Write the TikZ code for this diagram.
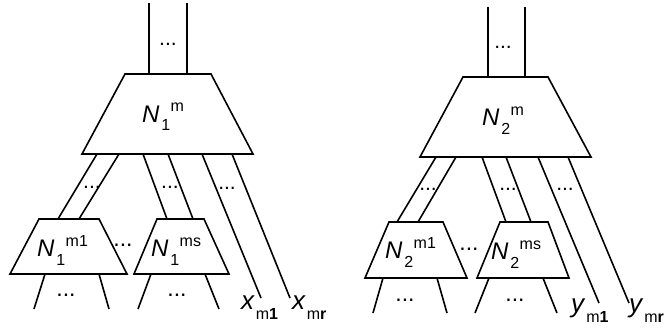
\documentclass[tikz,border=0pt]{standalone}
\usepackage{fontspec}
\setmainfont{Liberation Sans}
\newcommand{\Nlab}[2]{\fontsize{24}{24}\selectfont\textit{N}\kern2pt\raisebox{-9pt}{\fontsize{16}{16}\selectfont #1}\kern0.5pt\raisebox{10pt}{\fontsize{16}{16}\selectfont #2}}
\newcommand{\Vlab}[3]{\fontsize{26}{26}\selectfont\textit{#1}\kern1pt\raisebox{-10pt}{\fontsize{16}{16}\selectfont #2\textbf{#3}}}
\tikzset{
  ln/.style={line width=1.6pt, line join=miter},
  lab/.style={anchor=base west, inner sep=0pt, outer sep=0pt},
  dts/.style={anchor=base, inner sep=0pt, outer sep=0pt, font=\fontsize{21}{21}\selectfont},
  dtb/.style={anchor=base, inner sep=0pt, outer sep=0pt, font=\fontsize{23}{23}\selectfont}
}
\begin{document}
\begin{tikzpicture}[x=1pt,y=-1pt]
\useasboundingbox (0,0) rectangle (670,329);
% ---------- left tree ----------
\coordinate (LtA1) at (149,3);   \coordinate (LtA2) at (149,74);
\coordinate (LtB1) at (187,3);   \coordinate (LtB2) at (187,74);
\coordinate (LmTL) at (125,74);  \coordinate (LmTR) at (211,74);
\coordinate (LmBR) at (253,154); \coordinate (LmBL) at (82,154);
\coordinate (L1TL) at (39,219);  \coordinate (L1TR) at (99,219);
\coordinate (L1BR) at (127,274); \coordinate (L1BL) at (10,274);
\coordinate (L2TL) at (157,219); \coordinate (L2TR) at (204,219);
\coordinate (L2BR) at (229,274); \coordinate (L2BL) at (134,274);
\coordinate (Lo1) at (97,154);   \coordinate (Li1) at (58,219);
\coordinate (Lo2) at (119,154);  \coordinate (Li2) at (79,219);
\coordinate (Lo3) at (143,154);  \coordinate (Li3) at (167,219);
\coordinate (Lo4) at (168,154);  \coordinate (Li4) at (193,219);
\coordinate (Lo5) at (202,154);  \coordinate (Lx1) at (261,298);
\coordinate (Lo6) at (232,154);  \coordinate (Lxr) at (290,298);
\coordinate (L1a) at (45,274);   \coordinate (L1a2) at (34,309);
\coordinate (L1b) at (99,274);   \coordinate (L1b2) at (109,309);
\coordinate (L2a) at (151,274);  \coordinate (L2a2) at (138,309);
\coordinate (L2b) at (205,274);  \coordinate (L2b2) at (219,309);
\draw[ln] (LtA1) -- (LtA2);
\draw[ln] (LtB1) -- (LtB2);
\draw[ln] (LmTL) -- (LmTR) -- (LmBR) -- (LmBL) -- cycle;
\draw[ln] (L1TL) -- (L1TR) -- (L1BR) -- (L1BL) -- cycle;
\draw[ln] (L2TL) -- (L2TR) -- (L2BR) -- (L2BL) -- cycle;
\draw[ln] (Lo1) -- (Li1);
\draw[ln] (Lo2) -- (Li2);
\draw[ln] (Lo3) -- (Li3);
\draw[ln] (Lo4) -- (Li4);
\draw[ln] (Lo5) -- (Lx1);
\draw[ln] (Lo6) -- (Lxr);
\draw[ln] (L1a) -- (L1a2);
\draw[ln] (L1b) -- (L1b2);
\draw[ln] (L2a) -- (L2a2);
\draw[ln] (L2b) -- (L2b2);
\node[lab] (LmLab) at (142,122) {\Nlab{1}{m}};
\node[lab] (L1Lab) at (37,256) {\Nlab{1}{m1}};
\node[lab] (L2Lab) at (151,256) {\Nlab{1}{ms}};
\node[lab] (LxLab1) at (241,309) {\Vlab{x}{m}{1}};
\node[lab] (LxLab2) at (292,309) {\Vlab{x}{m}{r}};
\node[dts] (Ld1) at (168,46) {...};
\node[dts] (Ld2) at (92,188) {...};
\node[dts] (Ld3) at (170,188) {...};
\node[dts] (Ld4) at (227,189) {...};
\node[dtb] (Ld5) at (123,246) {...};
\node[dtb] (Ld6) at (66,296) {...};
\node[dtb] (Ld7) at (177,296) {...};
% ---------- right tree ----------
\coordinate (RtA1) at (488,7);   \coordinate (RtA2) at (488,77);
\coordinate (RtB1) at (525,7);   \coordinate (RtB2) at (525,77);
\coordinate (RmTL) at (463,77);  \coordinate (RmTR) at (548,77);
\coordinate (RmBR) at (591,157); \coordinate (RmBL) at (420,157);
\coordinate (R1TL) at (389,222); \coordinate (R1TR) at (443,222);
\coordinate (R1BR) at (467,278); \coordinate (R1BL) at (365,278);
\coordinate (R2TL) at (500,222); \coordinate (R2TR) at (548,222);
\coordinate (R2BR) at (569,278); \coordinate (R2BL) at (477,278);
\coordinate (Ro1) at (436,157);  \coordinate (Ri1) at (397,222);
\coordinate (Ro2) at (456,157);  \coordinate (Ri2) at (418,222);
\coordinate (Ro3) at (482,157);  \coordinate (Ri3) at (506,222);
\coordinate (Ro4) at (506,157);  \coordinate (Ri4) at (531,222);
\coordinate (Ro5) at (538,157);  \coordinate (Ry1) at (599,303);
\coordinate (Ro6) at (568,157);  \coordinate (Ryr) at (629,303);
\coordinate (R1a) at (383,278);  \coordinate (R1a2) at (373,313);
\coordinate (R1b) at (437,278);  \coordinate (R1b2) at (447,313);
\coordinate (R2a) at (489,278);  \coordinate (R2a2) at (475,313);
\coordinate (R2b) at (543,278);  \coordinate (R2b2) at (557,313);
\draw[ln] (RtA1) -- (RtA2);
\draw[ln] (RtB1) -- (RtB2);
\draw[ln] (RmTL) -- (RmTR) -- (RmBR) -- (RmBL) -- cycle;
\draw[ln] (R1TL) -- (R1TR) -- (R1BR) -- (R1BL) -- cycle;
\draw[ln] (R2TL) -- (R2TR) -- (R2BR) -- (R2BL) -- cycle;
\draw[ln] (Ro1) -- (Ri1);
\draw[ln] (Ro2) -- (Ri2);
\draw[ln] (Ro3) -- (Ri3);
\draw[ln] (Ro4) -- (Ri4);
\draw[ln] (Ro5) -- (Ry1);
\draw[ln] (Ro6) -- (Ryr);
\draw[ln] (R1a) -- (R1a2);
\draw[ln] (R1b) -- (R1b2);
\draw[ln] (R2a) -- (R2a2);
\draw[ln] (R2b) -- (R2b2);
\node[lab] (RmLab) at (482,125) {\Nlab{2}{m}};
\node[lab] (R1Lab) at (385,258) {\Nlab{2}{m1}};
\node[lab] (R2Lab) at (491,259) {\Nlab{2}{ms}};
\node[lab] (RyLab1) at (571,312) {\Vlab{y}{m}{1}};
\node[lab] (RyLab2) at (629,312) {\Vlab{y}{m}{r}};
\node[dts] (Rd1) at (503,49) {...};
\node[dts] (Rd2) at (428,190) {...};
\node[dts] (Rd3) at (508,190) {...};
\node[dts] (Rd4) at (565,190) {...};
\node[dtb] (Rd5) at (469,250) {...};
\node[dtb] (Rd6) at (405,301) {...};
\node[dtb] (Rd7) at (515,301) {...};
\end{tikzpicture}
\end{document}
